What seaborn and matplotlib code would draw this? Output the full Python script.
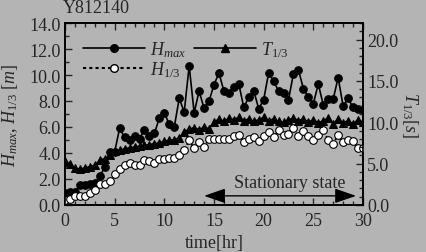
import numpy as np
import pandas as pd
import matplotlib
matplotlib.use("Agg")
import matplotlib.pyplot as plt
from matplotlib.lines import Line2D
from matplotlib.ticker import MultipleLocator
import seaborn as sns

time_hr = [i * 0.5 for i in range(61)]

h_max = [0.9, 1.0, 1.0, 1.5, 1.5, 1.6, 1.7, 2.2, 2.9, 4.1,
         4.1, 5.9, 5.2, 5.0, 5.3, 5.1, 5.8, 5.3, 5.5, 6.7,
         7.1, 6.2, 6.0, 8.2, 7.15, 10.7, 7.1, 8.75, 7.45, 8.0,
         9.25, 10.15, 8.75, 8.6, 9.05, 9.3, 7.5, 8.3, 8.8, 7.4,
         8.1, 10.15, 9.55, 8.75, 8.6, 8.1, 10.1, 10.4, 8.95, 8.3,
         7.8, 9.3, 7.7, 8.15, 8.15, 9.8, 7.6, 8.2, 7.5, 7.4, 7.3]

h_13 = [0.4, 0.45, 0.65, 0.7, 0.7, 0.9, 1.15, 1.6, 1.65, 1.85,
        2.35, 2.8, 3.05, 3.25, 3.05, 3.1, 3.45, 3.4, 3.25, 3.5,
        3.5, 3.6, 3.65, 3.85, 4.2, 5.0, 4.35, 4.85, 4.45, 5.05,
        5.1, 5.1, 5.05, 5.1, 5.3, 5.4, 4.85, 5.1, 5.2, 4.95,
        5.3, 5.6, 5.2, 5.75, 5.4, 5.45, 5.9, 5.3, 5.7, 5.3,
        5.0, 5.4, 5.75, 5.0, 4.7, 5.4, 4.85, 5.0, 4.95, 4.35, 4.4]

t_13 = [5.3, 4.9, 4.5, 4.3, 4.5, 4.6, 4.8, 5.4, 5.6, 6.0,
        6.5, 6.6, 6.8, 6.9, 7.0, 7.1, 7.2, 7.3, 7.4, 7.5,
        7.7, 7.8, 7.9, 8.1, 8.8, 9.2, 9.3, 9.1, 9.4, 9.2,
        10.0, 10.4, 10.1, 10.5, 10.3, 10.6, 10.2, 10.4, 10.1, 10.3,
        10.6, 10.2, 10.4, 10.1, 10.0, 10.3, 10.5, 10.2, 10.4, 10.0,
        10.3, 9.9, 10.2, 10.5, 9.8, 10.4, 9.9, 10.2, 9.8, 10.3, 10.0]

x_ticks = [0, 5, 10, 15, 20, 25, 30]
left_ticks = [0, 2, 4, 6, 8, 10, 12, 14]
right_ticks = [0, 5, 10, 15, 20]
title_text = "Y812140"
annot_text = "Stationary state"
arrow_span = [14.0, 29.3]

df = pd.DataFrame({"time": time_hr, "hmax": h_max, "h13": h_13, "t13": t_13})

sns.set_style("ticks")
plt.rcParams["font.family"] = ["Liberation Serif", "DejaVu Serif"]
plt.rcParams["mathtext.fontset"] = "custom"
plt.rcParams["mathtext.it"] = "Liberation Serif:italic"
plt.rcParams["mathtext.rm"] = "Liberation Serif"
plt.rcParams["xtick.direction"] = "in"
plt.rcParams["ytick.direction"] = "in"

FS = 13
bg = "#b4b4b4"
fig = plt.figure(figsize=(4.26, 2.53), dpi=100, facecolor=bg)
ax = fig.add_axes([0.1526, 0.186, 0.6995, 0.719])
ax.set_facecolor(bg)
ax2 = ax.twinx()

sns.lineplot(data=df, x="time", y="hmax", ax=ax, color="black", lw=1.2,
             marker="o", markersize=5.5, markerfacecolor="black",
             markeredgecolor="black", zorder=3)
sns.lineplot(data=df, x="time", y="h13", ax=ax, color="black", lw=1.2,
             linestyle=(0, (1.5, 1.5)), marker="o", markersize=5.5,
             markerfacecolor="white", markeredgecolor="black",
             markeredgewidth=0.8, zorder=4)
sns.lineplot(data=df, x="time", y="t13", ax=ax2, color="black", lw=1.2,
             marker="^", markersize=5.5, markerfacecolor="black",
             markeredgecolor="black", zorder=3)

ax.set_xlim(0, 30)
ax.set_ylim(0, 14)
ax2.set_ylim(0, 22)
ax.set_xticks(x_ticks)
ax.set_yticks(left_ticks)
ax2.set_yticks(right_ticks)
ax.xaxis.set_minor_locator(MultipleLocator(1))
ax.yaxis.set_minor_locator(MultipleLocator(1))
ax2.yaxis.set_minor_locator(MultipleLocator(1))
ax.set_xticklabels([str(v) for v in x_ticks], fontsize=FS)
ax.set_yticklabels([f"{v:.1f}" for v in left_ticks], fontsize=FS)
ax2.set_yticklabels([f"{v:.1f}" for v in right_ticks], fontsize=FS)
ax.tick_params(axis="x", which="both", top=True, bottom=True, pad=5)
ax.tick_params(axis="y", which="both", left=True, right=False, pad=3)
ax2.tick_params(axis="y", which="both", right=True, left=False, pad=3)
ax.tick_params(which="major", length=5, width=1)
ax.tick_params(which="minor", length=3, width=1)
ax2.tick_params(which="major", length=5, width=1)
ax2.tick_params(which="minor", length=3, width=1)
for a in (ax, ax2):
    for s in a.spines.values():
        s.set_linewidth(1.2)
        s.set_color("black")

ax.set_xlabel("time[hr]", fontsize=FS, labelpad=4)
ax.set_ylabel(r"$H_{max}$, $H_{\mathit{1/3}}$ [$m$]", fontsize=FS)
ax.yaxis.set_label_coords(-0.152, 0.5)
ax2.set_ylabel(r"$T_{\mathit{1/3}}$[$s$]", fontsize=FS, rotation=270)
ax2.yaxis.set_label_coords(1.19, 0.5)

fig.text(0.147, 0.965, title_text, fontsize=FS, ha="left", va="center")

ax.annotate("", xy=(arrow_span[0], 0.7), xytext=(arrow_span[1], 0.7),
            arrowprops=dict(arrowstyle="<|-|>,head_length=1.3,head_width=0.45",
                            color="black", lw=1.0, shrinkA=0, shrinkB=0))
ax.text(22.6, 1.75, annot_text, fontsize=FS, ha="center", va="center")

handles = [
    Line2D([], [], color="black", lw=1.2, marker="o", markersize=5.5,
           markerfacecolor="black"),
    Line2D([], [], color="black", lw=1.5, linestyle=(0, (1.5, 1.5)),
           marker="o", markersize=5.5, markerfacecolor="white",
           markeredgecolor="black"),
    Line2D([], [], color="black", lw=1.2, marker="^", markersize=5.5,
           markerfacecolor="black"),
]
labels = [r"$H_{max}$", r"$H_{\mathit{1/3}}$", r"$T_{\mathit{1/3}}$"]
ax.legend(handles, labels, ncol=2, loc="upper left", frameon=False,
          fontsize=FS, handlelength=3.4, columnspacing=0.45,
          handletextpad=0.3, borderaxespad=0.2, labelspacing=0.0,
          bbox_to_anchor=(0.025, 0.97))

fig.savefig("out.png", dpi=100, facecolor=bg)
